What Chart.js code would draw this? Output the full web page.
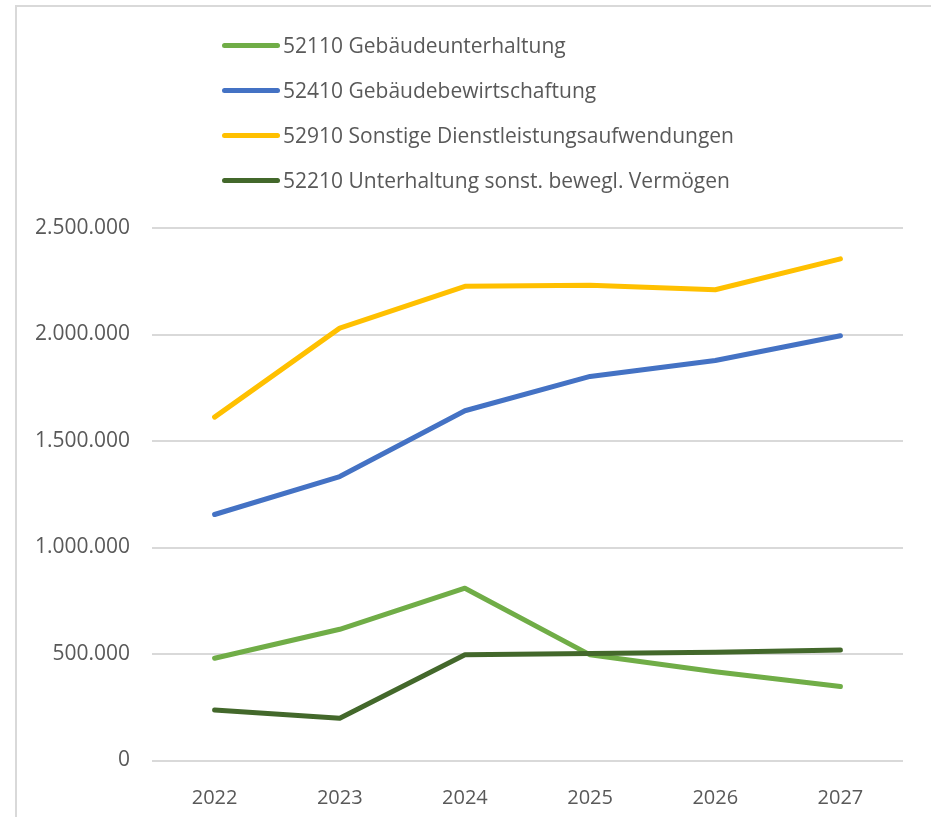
<!DOCTYPE html>
<html>
<head>
<meta charset="utf-8">
<script src="https://cdn.jsdelivr.net/npm/chart.js@4/dist/chart.umd.min.js"></script>
<style>
  html, body { margin: 0; padding: 0; background: #fff; }
  #wrap { position: relative; width: 931px; height: 817px; overflow: hidden; }
  #frame { position: absolute; left: 15px; top: 5px; width: 2000px; height: 2000px;
    border-left: 2px solid #d9d9d9; border-top: 2px solid #d9d9d9; }
  #chart { position: absolute; left: 0; top: 0; }
  #legend { position: absolute; left: 222px; top: 0; font-family: "Open Sans", sans-serif;
    font-size: 21px; color: #595959; }
  .item { position: absolute; left: 0; white-space: nowrap; display: flex; align-items: center; height: 30px; }
  .swatch { width: 58px; height: 5px; border-radius: 3px; margin-right: 3px; }
</style>
</head>
<body>
<div id="wrap">
  <div id="frame"></div>
  <canvas id="chart" width="931" height="817"></canvas>
  <div id="legend"></div>
</div>
<script>
const years = ['2022', '2023', '2024', '2025', '2026', '2027'];

const seriesNames = [
  '52110 Gebäudeunterhaltung',
  '52410 Gebäudebewirtschaftung',
  '52910 Sonstige Dienstleistungsaufwendungen',
  '52210 Unterhaltung sonst. bewegl. Vermögen'
];
const seriesColors = ['#70AD47', '#4472C4', '#FFC000', '#43682B'];

const gebaeudeunterhaltung = [480000, 616000, 809000, 496000, 417000, 347000];
const gebaeudebewirtschaftung = [1155000, 1333000, 1642000, 1803000, 1878000, 1994000];
const sonstigeDienstleistungen = [1612000, 2030000, 2226000, 2231000, 2210000, 2355000];
const unterhaltungVermoegen = [237000, 198000, 496000, 502000, 508000, 519000];

const yTicks = [0, 500000, 1000000, 1500000, 2000000, 2500000];

const seriesValues = [gebaeudeunterhaltung, gebaeudebewirtschaftung, sonstigeDienstleistungen, unterhaltungVermoegen];
// dark green sits on top of the light green where they cross
const drawOrder = [2, 1, 1, 0];

function fmt(v) {
  return String(v).replace(/\B(?=(\d{3})+(?!\d))/g, '.');
}

const legend = document.getElementById('legend');
const legendRows = [45, 90, 135, 180];
seriesNames.forEach((name, i) => {
  const row = document.createElement('div');
  row.className = 'item';
  row.style.top = (legendRows[i] - 15) + 'px';
  const sw = document.createElement('span');
  sw.className = 'swatch';
  sw.style.background = seriesColors[i];
  const txt = document.createElement('span');
  txt.textContent = name;
  row.appendChild(sw);
  row.appendChild(txt);
  legend.appendChild(row);
});

const ctx = document.getElementById('chart').getContext('2d');
new Chart(ctx, {
  type: 'line',
  data: {
    labels: years,
    datasets: seriesNames.map((name, i) => ({
      label: name,
      data: seriesValues[i],
      borderColor: seriesColors[i],
      backgroundColor: seriesColors[i],
      borderWidth: 5,
      borderCapStyle: 'round',
      borderJoinStyle: 'round',
      pointRadius: 0,
      tension: 0,
      order: drawOrder[i]
    }))
  },
  options: {
    responsive: false,
    animation: false,
    layout: { padding: { top: 228, right: 28, left: 0, bottom: 0 } },
    plugins: { legend: { display: false }, tooltip: { enabled: false } },
    scales: {
      x: {
        offset: true,
        grid: { display: false },
        border: { display: false },
        ticks: { color: '#595959', font: { family: 'Open Sans', size: 20 }, padding: 18 },
        afterFit: (s) => { s.height = 56.5; }
      },
      y: {
        min: 0,
        max: 2500000,
        afterBuildTicks: (s) => { s.ticks = yTicks.map(v => ({ value: v })); },
        grid: { color: '#d9d9d9', lineWidth: 2, drawTicks: false },
        border: { display: false },
        ticks: {
          color: '#595959',
          font: { family: 'Open Sans', size: 21 },
          padding: 22,
          callback: (v) => fmt(v)
        },
        afterFit: (s) => { s.width = 152; }
      }
    }
  }
});
</script>
</body>
</html>
